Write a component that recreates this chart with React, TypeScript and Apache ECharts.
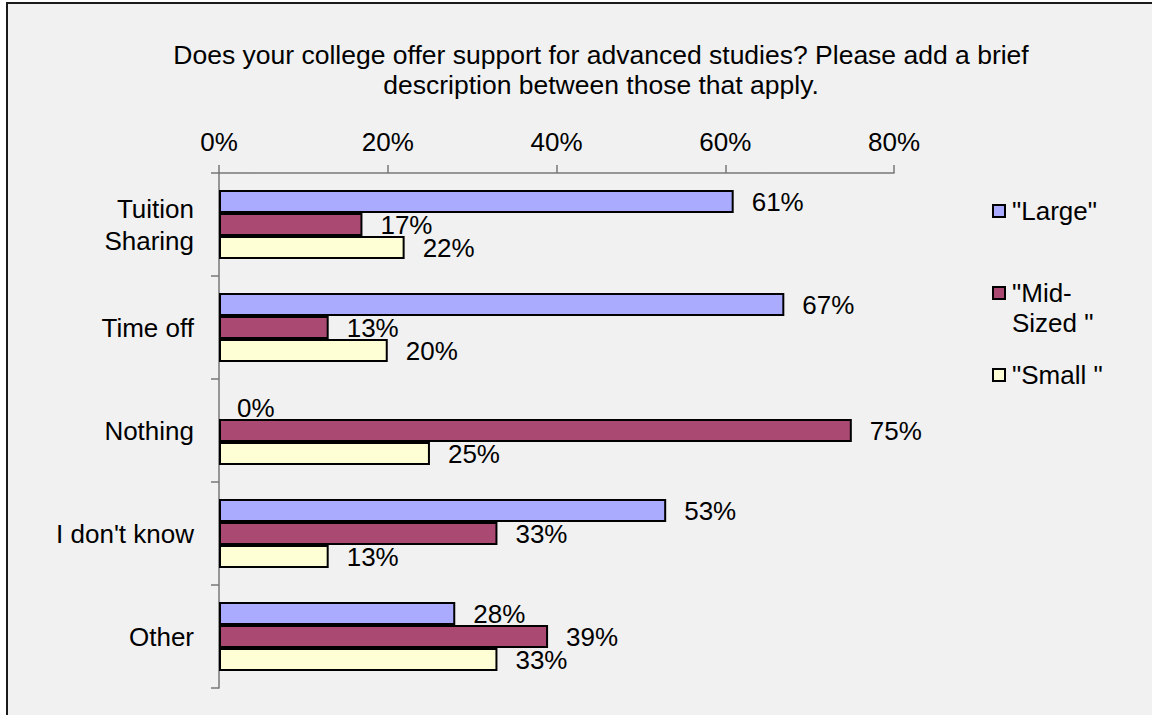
import React, { useEffect, useRef } from "react";
import * as echarts from "echarts";

const categories = ["Tuition\nSharing", "Time off", "Nothing", "I don't know", "Other"];
const seriesNames = ['"Large"', '"Mid-Sized "', '"Small "'];
const legendLabels = ['"Large"', '"Mid-\nSized "', '"Small "'];
const largeValues = [61, 67, 0, 53, 28];
const midValues = [17, 13, 75, 33, 39];
const smallValues = [22, 20, 25, 13, 33];
const colors = ["#aaaaff", "#aa4a73", "#ffffd6"];
const titleText =
  "Does your college offer support for advanced studies? Please add a brief\ndescription between those that apply.";

const FONT = "'Liberation Sans', Arial, sans-serif";

export default function App() {
  const ref = useRef<HTMLDivElement>(null);
  useEffect(() => {
    if (!ref.current) return;
    const chart = echarts.init(ref.current, null, { renderer: "svg" });
    const allValues = [largeValues, midValues, smallValues];
    const legendY = [211, 293, 375];
    const legendGraphics: any[] = [];
    legendLabels.forEach((lab, i) => {
      legendGraphics.push({
        type: "rect",
        shape: { x: 993, y: legendY[i] - 6, width: 12, height: 12 },
        style: { fill: colors[i], stroke: "#000", lineWidth: 2 },
        z: 10,
      });
      legendGraphics.push({
        type: "text",
        x: 1012,
        y: legendY[i] - 15,
        style: {
          text: lab,
          fill: "#000",
          font: `26px ${FONT}`,
          lineHeight: 30,
          verticalAlign: "top",
          textAlign: "left",
        },
        z: 10,
      });
    });
    chart.setOption({
      animation: false,
      backgroundColor: "#ffffff",
      textStyle: { fontFamily: FONT },
      title: {
        text: titleText,
        left: 601,
        top: 40,
        padding: 0,
        textAlign: "center",
        textStyle: {
          fontFamily: FONT,
          fontSize: 26.5,
          fontWeight: "normal",
          lineHeight: 30,
          color: "#000",
        },
      },
      graphic: [
        {
          type: "rect",
          shape: { x: 7, y: 3, width: 1170, height: 740 },
          style: { fill: "#f1f1f1", stroke: "#1a1a1a", lineWidth: 2 },
          z: -100,
          silent: true,
        },
        ...legendGraphics,
      ],
      grid: { left: 219, right: 258, top: 173, bottom: 27, containLabel: false },
      xAxis: {
        type: "value",
        position: "top",
        min: 0,
        max: 80,
        interval: 20,
        splitLine: { show: false },
        axisLine: { show: true, lineStyle: { color: "#777", width: 1.5 } },
        axisTick: { show: true, length: 8, lineStyle: { color: "#777", width: 1.5 } },
        axisLabel: {
          formatter: "{value}%",
          fontSize: 26,
          color: "#000",
          fontFamily: FONT,
          margin: 18,
        },
      },
      yAxis: {
        type: "category",
        inverse: true,
        data: categories,
        axisLine: { show: true, lineStyle: { color: "#777", width: 1.5 } },
        axisTick: { show: true, length: 8, lineStyle: { color: "#777", width: 1.5 } },
        axisLabel: {
          fontSize: 26,
          color: "#000",
          fontFamily: FONT,
          margin: 25,
          lineHeight: 32,
        },
      },
      series: seriesNames.map((name, i) => ({
        name,
        type: "bar",
        data: allValues[i].map((v) =>
          v === 0 ? { value: v, itemStyle: { borderWidth: 0 } } : v
        ),
        barWidth: 23,
        barGap: "0%",
        itemStyle: { color: colors[i], borderColor: "#000", borderWidth: 2 },
        label: {
          show: true,
          position: "right",
          distance: 18,
          formatter: "{c}%",
          fontSize: 26,
          color: "#000",
          fontFamily: FONT,
        },
      })),
    });
    return () => chart.dispose();
  }, []);
  return (
    <div
      ref={ref}
      style={{ position: "absolute", left: 0, top: 0, width: 1152, height: 715 }}
    />
  );
}
